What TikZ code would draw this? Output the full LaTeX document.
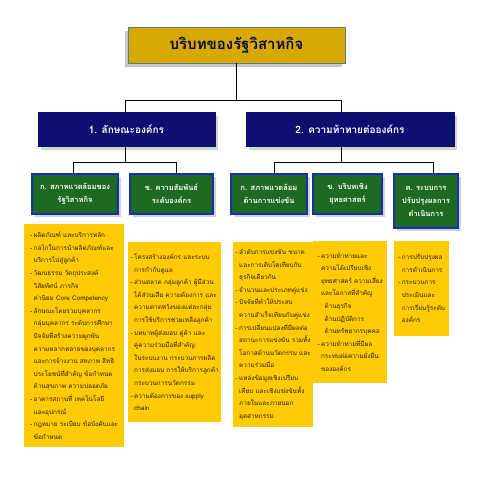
\documentclass[tikz,border=0pt]{standalone}
\usepackage{fontspec}
\newfontfamily\thaifont[Script=Thai]{Loma}
\usepackage{tikz}
\usetikzlibrary{shadows}

\definecolor{gold}{HTML}{D6A800}
\definecolor{navy}{HTML}{0C0F6E}
\definecolor{leaf}{HTML}{1E6A22}
\definecolor{edgeblue}{HTML}{1530B0}
\definecolor{note}{HTML}{FFCB05}
\definecolor{ink}{HTML}{2A1E00}

\tikzset{
  headbox/.style={fill=gold, draw=gray!70!teal, line width=0.8pt, minimum width=217pt, minimum height=36pt,
    font=\thaifont\bfseries\fontsize{15}{18}\selectfont, text=navy!60!black,
    drop shadow={shadow xshift=-3pt, shadow yshift=-4pt, fill=gray!45, opacity=1}},
  topicbox/.style={fill=navy, draw=navy, minimum height=34pt, text=white,
    font=\thaifont\bfseries\fontsize{10}{13}\selectfont,
    drop shadow={shadow xshift=3pt, shadow yshift=-3pt, fill=gray!35, opacity=1}},
  subbox/.style={fill=leaf, draw=edgeblue, line width=1.2pt, text=white, align=center,
    font=\thaifont\bfseries\fontsize{7.5}{13}\selectfont,
    drop shadow={shadow xshift=3pt, shadow yshift=-3pt, fill=gray!35, opacity=1}},
  notebox/.style={fill=note, anchor=north west, align=left, inner sep=2.5pt, text=ink,
    font=\thaifont\fontsize{6.4}{12.6}\selectfont},
  link/.style={draw=black, line width=0.9pt}
}
\newcommand{\dsh}{\makebox[3.5pt][l]{-}}
\newcommand{\ind}{\hspace*{3.5pt}}

\begin{document}
\begin{tikzpicture}[x=1pt,y=-1pt]
  \useasboundingbox[fill=white] (0,0) rectangle (480,480);

  % head
  \node[headbox] (top) at (236.5,45) {บริบทของรัฐวิสาหกิจ};

  % two topics
  \node[topicbox, minimum width=177pt] (b1) at (126.5,129.5) {1. ลักษณะองค์กร};
  \node[topicbox, minimum width=208pt] (b2) at (350,129.5) {2. ความท้าทายต่อองค์กร};

  % sub topics
  \node[subbox, minimum width=86pt, minimum height=40pt] (g1) at (75,194) {ก. สภาพแวดล้อมของ\\รัฐวิสาหกิจ};
  \node[subbox, minimum width=83pt, minimum height=40pt] (g2) at (171.5,194) {ข. ความสัมพันธ์\\ระดับองค์กร};
  \node[subbox, minimum width=76pt, minimum height=40pt] (g3) at (269,194) {ก. สภาพแวดล้อม\\ด้านการแข่งขัน};
  \node[subbox, minimum width=69pt, minimum height=40pt] (g4) at (347.5,194) {ข. บริบทเชิง\\ยุทธศาสตร์};
  \node[subbox, minimum width=64pt, minimum height=54pt] (g5) at (426,201) {ค. ระบบการ\\ปรับปรุงผลการ\\ดำเนินการ};

  % connectors
  \coordinate (h1) at (125,100);
  \coordinate (h2) at (341,100);
  \coordinate (k1) at (73,162);
  \coordinate (k2) at (176,162);
  \coordinate (k3) at (274,162);
  \coordinate (k4) at (433,162);
  \draw[link] (top.south) -- (top.south |- h1);
  \draw[link] (b1.north -| h1) -- (h1) -- (h2) -- (b2.north -| h2);
  \draw[link] (b1.south -| h1) -- (h1 |- k1);
  \draw[link] (g1.north -| k1) -- (k1) -- (k2) -- (g2.north -| k2);
  \draw[link] (b2.south -| h2) -- (h2 |- k3);
  \draw[link] (g3.north -| k3) -- (k3) -- (k4) -- (g5.north -| k4);

  % notes
  \node[notebox, minimum width=100pt, minimum height=223pt] (n1) at (24,224) {%
    \dsh ผลิตภัณฑ์ และบริการหลัก\\
    \dsh กลไกในการนำผลิตภัณฑ์และ\\
    \ind บริการไปสู่ลูกค้า\\
    \dsh วัฒนธรรม วัตถุประสงค์\\
    \ind วิสัยทัศน์ ภารกิจ\\
    \ind ค่านิยม Core Competency\\
    \dsh ลักษณะโดยรวมบุคลากร\\
    \ind กลุ่มบุคลากร ระดับการศึกษา\\
    \ind ปัจจัยที่สร้างความผูกพัน\\
    \ind ความหลากหลายของบุคลากร\\
    \ind และการจ้างงาน สหภาพ สิทธิ\\
    \ind ประโยชน์ที่สำคัญ ข้อกำหนด\\
    \ind ด้านสุขภาพ ความปลอดภัย\\
    \dsh อาคารสถานที่ เทคโนโลยี\\
    \ind และอุปกรณ์\\
    \dsh กฎหมาย ระเบียบ ข้อบังคับและ\\
    \ind ข้อกำหนด};
  \node[notebox, minimum width=91pt, minimum height=180pt] (n2) at (128,242) {%
    \dsh โครงสร้างองค์กร และระบบ\\
    \ind การกำกับดูแล\\
    \dsh ส่วนตลาด กลุ่มลูกค้า ผู้มีส่วน\\
    \ind ได้ส่วนเสีย ความต้องการ และ\\
    \ind ความคาดหวังของแต่ละกลุ่ม\\
    \ind การใช้บริการช่วยเหลือลูกค้า\\
    \dsh บทบาทผู้ส่งมอบ คู่ค้า และ\\
    \ind คู่ความร่วมมือที่สำคัญ\\
    \ind ในระบบงาน กระบวนการผลิต\\
    \ind การส่งมอบ การให้บริการลูกค้า\\
    \ind กระบวนการนวัตกรรม\\
    \dsh ความต้องการของ supply\\
    \ind chain};
  \node[notebox, minimum width=77pt, minimum height=185pt] (n3) at (233,242) {%
    \dsh ลำดับการแข่งขัน ขนาด\\
    \ind และการเติบโตเทียบกับ\\
    \ind ธุรกิจเดียวกัน\\
    \dsh จำนวนและประเภทคู่แข่ง\\
    \dsh ปัจจัยที่ทำให้ประสบ\\
    \ind ความสำเร็จเทียบกับคู่แข่ง\\
    \dsh การเปลี่ยนแปลงที่มีผลต่อ\\
    \ind สถานะการแข่งขัน รวมทั้ง\\
    \ind โอกาสด้านนวัตกรรม และ\\
    \ind ความร่วมมือ\\
    \dsh แหล่งข้อมูลเชิงเปรียบ\\
    \ind เทียบ และเชิงแข่งขันทั้ง\\
    \ind ภายในและภายนอก\\
    \ind อุตสาหกรรม};
  \node[notebox, minimum width=74pt, minimum height=142pt] (n4) at (313,241) {%
    \dsh ความท้าทายและ\\
    \ind ความได้เปรียบเชิง\\
    \ind ยุทธศาสตร์ ความเสี่ยง\\
    \ind และโอกาสที่สำคัญ\\
    \ind\ind ด้านธุรกิจ\\
    \ind\ind ด้านปฏิบัติการ\\
    \ind\ind ด้านทรัพยากรบุคคล\\
    \dsh ความท้าทายที่มีผล\\
    \ind กระทบต่อความยั่งยืน\\
    \ind ขององค์กร};
  \node[notebox, minimum width=55pt, minimum height=95pt] (n5) at (394,241) {%
    \dsh การปรับปรุงผล\\
    \ind การดำเนินการ\\
    \dsh กระบวนการ\\
    \ind ประเมินและ\\
    \ind การเรียนรู้ระดับ\\
    \ind องค์กร};
\end{tikzpicture}
\end{document}
